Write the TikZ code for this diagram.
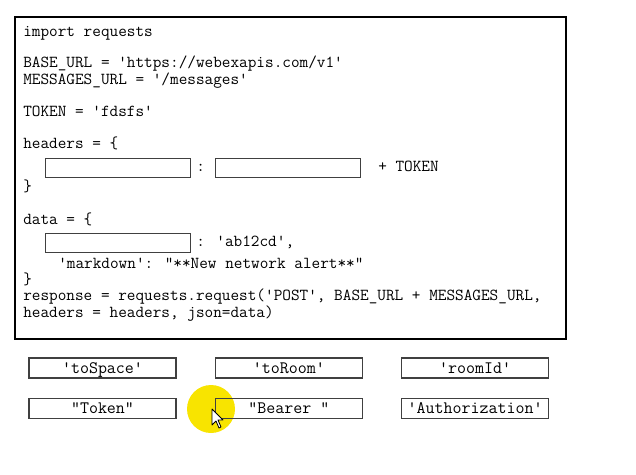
\documentclass[tikz,border=0pt]{standalone}
\usepackage{fontspec}
\usetikzlibrary{positioning}
\definecolor{halo}{RGB}{248,228,0}

\begin{document}
\begin{tikzpicture}[x=0.75pt,y=-0.75pt,
 code/.style={anchor=base west,inner sep=0pt,font=\ttfamily\fontsize{12.58}{14}\selectfont},
 frame/.style={draw,line width=1.6pt,minimum width=413.25pt,minimum height=241.5pt,inner sep=0pt},
 blank/.style={draw=black!75,line width=1pt,anchor=north west,minimum width=108.75pt,minimum height=14.25pt,inner sep=0pt},
 option/.style={draw=black!75,line width=1pt,minimum width=110.25pt,minimum height=15pt,inner sep=0pt,text height=9pt,text depth=1pt,font=\ttfamily\fontsize{13.1}{14}\selectfont}]
 \useasboundingbox (0,0) rectangle (636,475);

 % code frame
 \node[frame] (box) at (290.5,178) {};

 % code lines
 \node[code] (imp) at (23,36) {import requests};
 \node[code] (base) at (23,67) {BASE\_URL = 'https://webexapis.com/v1'};
 \node[code] (msg) at (23,84) {MESSAGES\_URL = '/messages'};
 \node[code] (tok) at (23,116) {TOKEN = 'fdsfs'};
 \node[code] (hdr) at (23,148) {headers = \{};
 \node[blank] (hkey) at (45,158) {};
 \node[code] (hcolon) at (196,171) {:};
 \node[blank] (hval) at (215,158) {};
 \node[code] (plus) at (378,171) {+ TOKEN};
 \node[code] (hend) at (23,191) {\}};
 \node[code] (dat) at (23,224) {data = \{};
 \node[blank] (dkey) at (45,233) {};
 \node[code] (dval) at (196,246) {: 'ab12cd',};
 \node[code] (md) at (58,268) {'markdown': "**New network alert**"};
 \node[code] (dend) at (23,284) {\}};
 \node[code] (resp) at (23,300) {response = requests.request('POST', BASE\_URL + MESSAGES\_URL,};
 \node[code] (resp2) at (23,317) {headers = headers, json=data)};

 % answer choices
 \node[option] (tospace) at (102.5,368) {'toSpace'};
 \node[option] (toroom) [right=28.5pt of tospace] {'toRoom'};
 \node[option] (roomid) [right=28.5pt of toroom] {'roomId'};
 \node[option] (token) [below=14.25pt of tospace] {"Token"};

 % mouse pointer
 \fill[halo] (211,409) circle (24);

 \node[option] (bearer) [below=14.25pt of toroom] {"Bearer "};
 \node[option] (auth) [below=14.25pt of roomid] {'Authorization'};

 \draw[fill=white,line width=0.6pt,line join=round] (212,409) -- ++(0,16) -- ++(4,-4) -- ++(3,7) -- ++(2,-1) -- ++(-3,-7) -- ++(5,0) -- cycle;
\end{tikzpicture}
\end{document}
